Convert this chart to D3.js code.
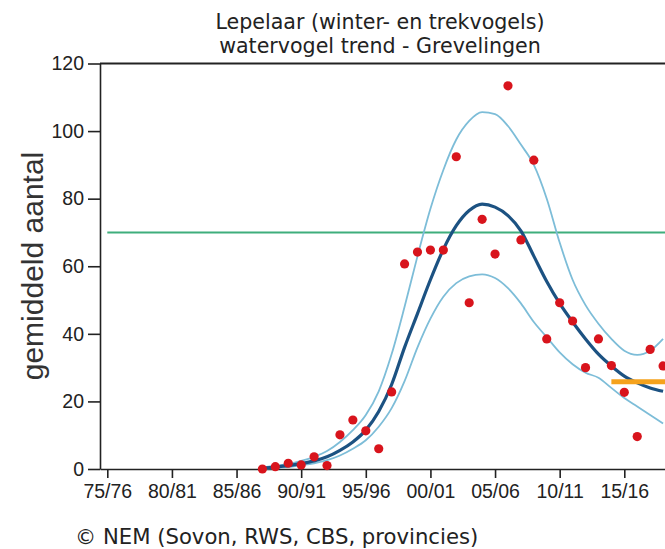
<!DOCTYPE html>
<html><head><meta charset="utf-8">
<script src="https://cdn.jsdelivr.net/npm/d3@7"></script>
<style>body{margin:0;background:#fff}svg{display:block}</style>
</head><body>
<svg id="c" width="665" height="549"></svg>
<script>
const years = [1987,1988,1989,1990,1991,1992,1993,1994,1995,1996,1997,1998,1999,2000,2001,2002,2003,2004,2005,2006,2007,2008,2009,2010,2011,2012,2013,2014,2015,2016,2017,2018];
const counts = [0,0.7,1.7,1.2,3.6,1.0,10.1,14.5,11.3,6.0,22.8,60.7,64.2,64.8,64.8,92.4,49.2,73.9,63.6,113.4,67.8,91.4,38.5,49.2,43.8,30.0,38.5,30.6,22.7,9.6,35.4,30.5];
const trend = [0.3,0.6,1.0,1.6,2.4,3.6,5.5,8.0,11.5,17.0,25.0,36.0,46.0,56.0,65.0,72.0,76.5,78.4,77.5,75.0,70.5,63.0,55.5,49.0,43.5,38.5,34.0,30.5,27.5,25.5,24.0,23.0];
const upper = [0.5,0.9,1.5,2.4,3.6,5.3,8.0,11.5,16.0,23.0,34.0,48.0,63.0,77.0,88.5,97.5,103.0,105.6,105.0,101.5,96.0,90.0,80.0,67.0,56.0,48.5,43.0,38.5,35.0,33.8,35.0,38.5];
const lower = [0.1,0.3,0.6,1.1,1.7,2.6,4.0,6.0,8.5,12.5,18.0,26.0,36.0,44.5,51.0,55.0,57.0,57.6,56.5,53.5,49.0,43.5,39.0,34.5,31.0,28.5,27.0,24.0,21.0,18.5,16.0,13.5];
const targetYears = [1975, 2019];
const targetValue = 70;
const recentYears = [2014, 2019];
const recentValue = 25.8;
const xTicks = [1975,1980,1985,1990,1995,2000,2005,2010,2015];
const xTickLabels = ["75/76","80/81","85/86","90/91","95/96","00/01","05/06","10/11","15/16"];
const yTicks = [0,20,40,60,80,100,120];
const titleLines = ["Lepelaar (winter- en trekvogels)","watervogel trend - Grevelingen"];
const yLabel = "gemiddeld aantal";
const footer = "© NEM (Sovon, RWS, CBS, provincies)";

const svg = d3.select("#c");
const W = 665;
const x0 = d3.scaleLinear().domain([1975,2015]).range([107.3,624.3]);
const x = d3.scaleLinear().domain([x0.invert(100), x0.invert(W)]).range([100, W]);
const y = d3.scaleLinear().domain([0,120]).range([469,63.5]);

svg.append("defs").append("clipPath").attr("id","clip")
  .append("rect").attr("x",100).attr("y",0).attr("width",W-100).attr("height",549);

const tickFont = "'Liberation Sans', Arial, sans-serif";
const ax = svg.append("g").attr("transform","translate(0,469)")
  .call(d3.axisBottom(x).tickValues(xTicks).tickFormat((d,i)=>xTickLabels[i]).tickSize(9).tickSizeOuter(0).tickPadding(6));
ax.selectAll("text").attr("font-family",tickFont).attr("font-size",19.5).attr("fill","#222");
ax.selectAll("line,path").attr("stroke","#222").attr("stroke-width",1.6);

const ay = svg.append("g").attr("transform","translate(100,0)")
  .call(d3.axisLeft(y).tickValues(yTicks).tickSize(12).tickSizeOuter(0).tickPadding(4));
ay.selectAll("text").attr("font-family",tickFont).attr("font-size",19.5).attr("fill","#222");
ay.selectAll("line,path").attr("stroke","#222").attr("stroke-width",1.6);

svg.append("line").attr("x1",x.range()[0]).attr("x2",x.range()[1]).attr("y1",y(120)).attr("y2",y(120))
  .attr("stroke","#222").attr("stroke-width",2.2);

const plot = svg.append("g").attr("clip-path","url(#clip)");

plot.append("line").attr("x1",x(targetYears[0])).attr("x2",x(targetYears[1]))
  .attr("y1",y(targetValue)).attr("y2",y(targetValue))
  .attr("stroke","#3fae7c").attr("stroke-width",2);

const line = d3.line().x(d=>x(d[0])).y(d=>y(d[1])).curve(d3.curveMonotoneX);
const z = (arr)=>years.map((yr,i)=>[yr,arr[i]]);

plot.append("path").attr("d",line(z(upper))).attr("fill","none").attr("stroke","#7dbdd8").attr("stroke-width",1.8);
plot.append("path").attr("d",line(z(lower))).attr("fill","none").attr("stroke","#7dbdd8").attr("stroke-width",1.8);
plot.append("path").attr("d",line(z(trend))).attr("fill","none").attr("stroke","#1c5282").attr("stroke-width",3.2);

plot.append("line").attr("x1",x(recentYears[0])).attr("x2",x(recentYears[1]))
  .attr("y1",y(recentValue)).attr("y2",y(recentValue))
  .attr("stroke","#f5a21c").attr("stroke-width",5);

svg.append("g").selectAll("circle").data(z(counts)).join("circle")
  .attr("cx",d=>x(d[0])).attr("cy",d=>y(d[1])).attr("r",4.6).attr("fill","#d8141c");

const tf = "'DejaVu Sans', Verdana, sans-serif";
svg.append("g").selectAll("text").data(titleLines).join("text")
  .attr("x",380).attr("y",(d,i)=>29+i*24).attr("text-anchor","middle")
  .attr("font-family",tf).attr("font-size",20.6).attr("fill","#222").text(d=>d);

svg.append("text").attr("transform","translate(43,266) rotate(-90)").attr("text-anchor","middle")
  .attr("font-family",tickFont).attr("font-size",30).attr("fill","#333").text(yLabel);

svg.append("text").attr("x",75).attr("y",544).attr("font-family",tf).attr("font-size",21.2)
  .attr("fill","#222").text(footer);
</script>
</body></html>
